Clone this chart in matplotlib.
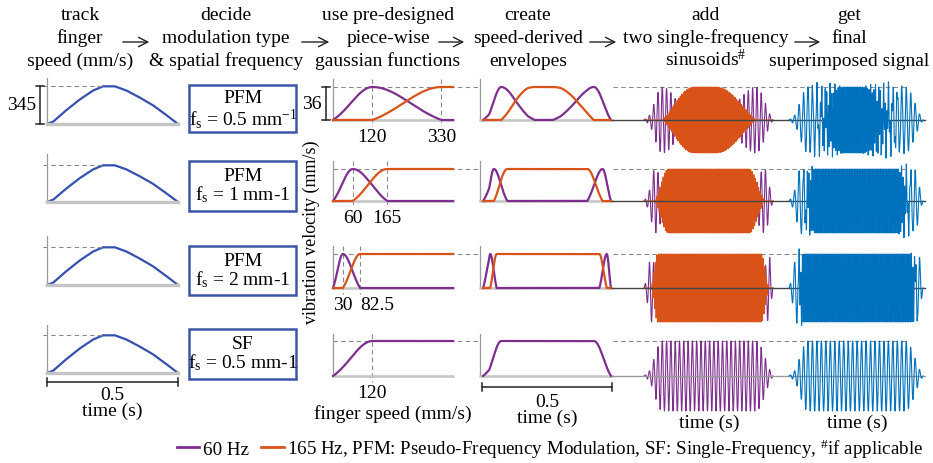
import numpy as np
import matplotlib
matplotlib.use('Agg')
import matplotlib.pyplot as plt
from matplotlib.patches import Rectangle, FancyArrowPatch
from matplotlib.lines import Line2D

plt.rcParams['font.family'] = ['Liberation Serif', 'DejaVu Serif']
plt.rcParams['font.size'] = 14
plt.rcParams['mathtext.fontset'] = 'custom'
plt.rcParams['mathtext.rm'] = 'Liberation Serif'
plt.rcParams['mathtext.it'] = 'Liberation Serif:italic'
plt.rcParams['mathtext.bf'] = 'Liberation Serif:bold'

# ---------------- data ----------------
headers = [["track", "finger", "speed (mm/s)"],
           ["decide", "modulation type", "& spatial frequency"],
           ["use pre-designed", "piece-wise", "gaussian functions"],
           ["create", "speed-derived", "envelopes"],
           ["add", "two single-frequency", "sinusoids$^{\\#}$"],
           ["get", "final", "superimposed signal"]]
speed_t = [0, 0.024, 0.075, 0.126, 0.176, 0.214, 0.259, 0.303, 0.354, 0.405, 0.456, 0.5]
speed_v = [0, 22, 128, 224, 304, 342, 342, 304, 240, 169, 80, 0]
peak_speed = 345
max_vib = 36
mod_types = ["PFM", "PFM", "PFM", "SF"]
fs_labels = ["f$_\\mathrm{s}$ = 0.5 mm$^\\mathrm{-1}$", "f$_\\mathrm{s}$ = 1 mm-1",
             "f$_\\mathrm{s}$ = 2 mm-1", "f$_\\mathrm{s}$ = 0.5 mm-1"]
low_peak = [120, 60, 30, 120]          # speed at which the 60 Hz function peaks
high_full = [330, 165, 82.5, None]     # speed at which the 165 Hz function saturates
speed_ticks = [[120, 330], [60, 165], [30, 82.5], [120]]
speed_tick_labels = [["120", "330"], ["60", "165"], ["30", "82.5"], ["120"]]
freq_low = 60
freq_high = 165
legend_labels = ["60 Hz", "165 Hz, PFM: Pseudo-Frequency Modulation, SF: Single-Frequency, $^{\\#}$if applicable"]

# ---------------- styles / layout ----------------
PURPLE = '#7e2f8e'
ORANGE = '#d95319'
BLUE = '#0072bd'
SPEEDC = '#3451b2'
BOXC = '#3a56a8'
W, H = 933, 464

fig = plt.figure(figsize=(W / 100, H / 100), dpi=100)


def add_ax(x0, y0, x1, y1):
    return fig.add_axes([x0 / W, 1 - y1 / H, (x1 - x0) / W, (y1 - y0) / H])


def style_ax(ax):
    for s in ['top', 'right']:
        ax.spines[s].set_visible(False)
    ax.spines['left'].set_color('#9a9a9a')
    ax.spines['left'].set_linewidth(0.9)
    ax.spines['bottom'].set_color('#c4c4c4')
    ax.spines['bottom'].set_linewidth(1.8)
    ax.set_yticks([])
    ax.tick_params(axis='x', length=0)


SIG = 0.55


def rise(u):
    u = np.clip(u, 0, 1)
    e0 = np.exp(-1 / (2 * SIG ** 2))
    return (np.exp(-(1 - u) ** 2 / (2 * SIG ** 2)) - e0) / (1 - e0)


def low_fn(s, a, b):
    s = np.asarray(s, float)
    if b is None:
        return max_vib * rise(s / a)
    return max_vib * np.where(s <= a, rise(s / a), rise((b - s) / (b - a)))


def high_fn(s, a, b):
    s = np.asarray(s, float)
    return max_vib * np.where(s <= a, 0.0, rise((s - a) / (b - a)))


# header texts
head_cx = [80, 226, 388, 528, 706, 849]
head_base = [20, 43, 66]
for cx, lines in zip(head_cx, headers):
    for yb, line in zip(head_base, lines):
        fig.text(cx / W, 1 - yb / H, line, ha='center', va='baseline')

arrows = [(120, 152), (299, 332), (436, 467), (587, 619), (792, 823)]
for xa, xb in arrows:
    fig.add_artist(FancyArrowPatch((xa / W, 1 - 43 / H), (xb / W, 1 - 43 / H),
                                   transform=fig.transFigure, arrowstyle='->,head_length=0.55,head_width=0.28',
                                   mutation_scale=12, lw=1.0, color='#222222'))

# rows
c1_top = [79, 155, 237, 326]
c1_bot = [125, 203, 286, 374]
c1_dash = [87, 166, 248, 336]
r_top = [80, 162, 247, 335]
r_base = [121, 202, 289, 377]
r_dash = [88, 170, 255, 342]
box_top = [86, 162, 247, 330]
box_bot = [133, 212, 296, 380]

t = np.linspace(0, 0.5, 8000)
spd = np.interp(t, speed_t, speed_v)
s_grid = np.linspace(0, 365, 1200)
t_peak = speed_t[int(np.argmax(speed_v))]

for r in range(4):
    # ---- column 1: finger speed ----
    ax1 = add_ax(47, c1_top[r], 178, c1_bot[r])
    style_ax(ax1)
    ax1.spines['bottom'].set_linewidth(2.4)
    ytop1 = peak_speed * (c1_bot[r] - c1_top[r]) / (c1_bot[r] - c1_dash[r])
    ax1.set_xlim(0, 0.5)
    ax1.set_ylim(0, ytop1)
    ax1.set_xticks([])
    ax1.plot(speed_t, speed_v, color=SPEEDC, lw=1.6, clip_on=False)
    ax1.plot([-0.015, t_peak], [peak_speed, peak_speed], color='#888888', lw=0.8,
             ls=(0, (4, 3)), clip_on=False)
    if r == 0:
        tr = ax1.get_yaxis_transform()
        xb = (40 - 47) / 131
        ax1.plot([xb, xb], [0, peak_speed], color='#222222', lw=1.1, transform=tr, clip_on=False)
        for yy in (0, peak_speed):
            ax1.plot([xb - 0.03, xb + 0.03], [yy, yy], color='#222222', lw=1.1, transform=tr, clip_on=False)
        ax1.text((22 - 47) / 131, peak_speed / 2, str(peak_speed), transform=tr, ha='center', va='center')
    if r == 3:
        trx = ax1.get_xaxis_transform()
        hh = c1_bot[r] - c1_top[r]
        yb = -(383 - c1_bot[r]) / hh
        ax1.plot([0, 0.5], [yb, yb], color='#222222', lw=1.1, transform=trx, clip_on=False)
        for xx in (0, 0.5):
            ax1.plot([xx, xx], [yb - 4 / hh, yb + 4 / hh], color='#222222', lw=1.1, transform=trx, clip_on=False)
        ax1.text(0.25, -(400 - c1_bot[r]) / hh, "0.5", transform=trx, ha='center', va='baseline')
        ax1.text(0.25, -(416 - c1_bot[r]) / hh, "time (s)", transform=trx, ha='center', va='baseline')

    # ---- column 2: boxes ----
    fig.add_artist(Rectangle((189 / W, 1 - box_bot[r] / H), (296 - 189) / W, (box_bot[r] - box_top[r]) / H,
                             transform=fig.transFigure, fill=False, ec=BOXC, lw=1.8))
    off1, off2 = (17, 39) if r == 0 else (19, 38)
    fig.text(243 / W, 1 - (box_top[r] + off1) / H, mod_types[r], ha='center', va='baseline')
    fig.text(243 / W, 1 - (box_top[r] + off2) / H, fs_labels[r], ha='center', va='baseline')

    # ---- column 3: piece-wise gaussian functions ----
    a, b = low_peak[r], high_full[r]
    ytop = max_vib * (r_base[r] - r_top[r]) / (r_base[r] - r_dash[r])
    ax3 = add_ax(333, r_top[r], 453, r_base[r])
    style_ax(ax3)
    ax3.set_xlim(0, 365)
    ax3.set_ylim(0, ytop)
    ax3.plot(s_grid, low_fn(s_grid, a, b), color=PURPLE, lw=1.6, clip_on=False, zorder=3)
    if b is not None:
        ax3.plot(s_grid, high_fn(s_grid, a, b), color=ORANGE, lw=1.6, clip_on=False, zorder=3)
    for xv in speed_ticks[r]:
        ax3.plot([xv, xv], [ytop, -6], color='#888888', lw=0.8, ls=(0, (4, 3)), clip_on=False)
    ax3.set_xticks(speed_ticks[r], speed_tick_labels[r])
    ax3.tick_params(axis='x', length=0, pad=6)
    if r == 2:
        ax3.get_xticklabels()[1].set_ha('left')
    if r == 3:
        ax3.set_xlabel("finger speed (mm/s)", labelpad=2)
    # long dashed reference line at max vibration
    ax3.plot([0, (905 - 333) / 120], [max_vib, max_vib], transform=ax3.get_yaxis_transform(),
             color='#888888', lw=0.8, ls=(0, (4, 3)), clip_on=False, zorder=1)
    if r == 0:
        tr = ax3.get_yaxis_transform()
        xb = (326 - 333) / 120
        ax3.plot([xb, xb], [0, max_vib], color='#222222', lw=1.1, transform=tr, clip_on=False)
        for yy in (0, max_vib):
            ax3.plot([xb - 0.033, xb + 0.033], [yy, yy], color='#222222', lw=1.1, transform=tr, clip_on=False)
        ax3.text((312 - 333) / 120, max_vib / 2, str(max_vib), transform=tr, ha='center', va='center')

    # ---- column 4: speed-derived envelopes ----
    env_low = low_fn(spd, a, b)
    env_high = high_fn(spd, a, b) if b is not None else None
    ax4 = add_ax(480, r_top[r], 612, r_base[r])
    style_ax(ax4)
    ax4.set_xlim(-0.012, 0.504)
    ax4.set_ylim(0, ytop)
    ax4.set_xticks([])
    ax4.plot(t, env_low, color=PURPLE, lw=1.6, clip_on=False, zorder=3)
    if env_high is not None:
        ax4.plot(t, env_high, color=ORANGE, lw=1.6, clip_on=False, zorder=3)
    if r == 3:
        trx = ax4.get_xaxis_transform()
        hh = r_base[r] - r_top[r]
        yb = -(388 - r_base[r]) / hh
        ax4.plot([-0.006, 0.504], [yb, yb], color='#222222', lw=1.1, transform=trx, clip_on=False)
        for xx in (-0.006, 0.504):
            ax4.plot([xx, xx], [yb - 4 / hh, yb + 4 / hh], color='#222222', lw=1.1, transform=trx, clip_on=False)
        ax4.text(0.25, -(407 - r_base[r]) / hh, "0.5", transform=trx, ha='center', va='baseline')
        ax4.text(0.25, -(423 - r_base[r]) / hh, "time (s)", transform=trx, ha='center', va='baseline')

    # ---- column 5: single-frequency sinusoids ----
    bot5 = 2 * r_base[r] - r_dash[r]
    sig_low = env_low * np.sin(2 * np.pi * freq_low * t)
    sig_high = env_high * np.sin(2 * np.pi * freq_high * t) if env_high is not None else np.zeros_like(t)
    ax5 = add_ax(644, r_dash[r], 773, bot5)
    ax5.axis('off')
    ax5.set_xlim(0, 0.5)
    ax5.set_ylim(-max_vib, max_vib)
    ax5.plot(t, sig_low, color=PURPLE, lw=0.8, clip_on=False)
    if env_high is not None:
        ax5.plot(t, sig_high, color=ORANGE, lw=0.8, clip_on=False)
    zc = '#444444' if r < 3 else '#999999'
    ax5.plot([(612 - 644) / 129, (925 - 644) / 129], [0, 0], transform=ax5.get_yaxis_transform(),
             color=zc, lw=1.0, clip_on=False, zorder=4)

    # ---- column 6: superimposed signal ----
    ax6 = add_ax(789, r_dash[r], 923, bot5)
    ax6.axis('off')
    ax6.set_xlim(0, 0.5)
    ax6.set_ylim(-max_vib, max_vib)
    ax6.plot(t, sig_low + sig_high, color=BLUE, lw=0.8, clip_on=False)
    if r == 3:
        fig.text(709 / W, 1 - 428 / H, "time (s)", ha='center', va='baseline')
        fig.text(857 / W, 1 - 428 / H, "time (s)", ha='center', va='baseline')

fig.text(311 / W, 1 - 232 / H, "vibration velocity (mm/s)", rotation=90, ha='center', va='center',
         fontsize=13)

handles = [Line2D([], [], color=PURPLE, lw=2), Line2D([], [], color=ORANGE, lw=2)]
fig.legend(handles, legend_labels, loc='center', bbox_to_anchor=(550 / W, 1 - 449 / H), ncol=2,
           frameon=False, handlelength=1.2, handletextpad=0.2, columnspacing=0.6, borderpad=0,
           fontsize=13.7)

fig.savefig('out.png', dpi=100)
